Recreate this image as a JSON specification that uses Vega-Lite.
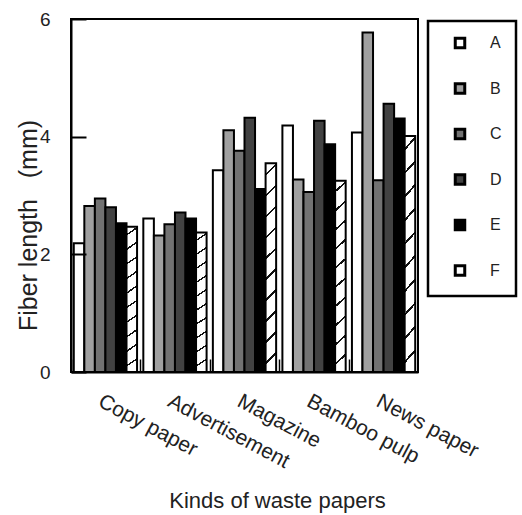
{
  "$schema": "https://vega.github.io/schema/vega-lite/v6.json",
  "autosize": {"type": "none"},
  "width": 347,
  "height": 353,
  "padding": {"left": 71, "top": 19, "right": 104, "bottom": 143},
  "background": "white",
  "data": {"values": [
    {"paper": "Copy paper", "series": "A", "len": 2.19},
    {"paper": "Copy paper", "series": "B", "len": 2.82},
    {"paper": "Copy paper", "series": "C", "len": 2.95},
    {"paper": "Copy paper", "series": "D", "len": 2.80},
    {"paper": "Copy paper", "series": "E", "len": 2.53},
    {"paper": "Copy paper", "series": "F", "len": 2.47},
    {"paper": "Advertisement", "series": "A", "len": 2.61},
    {"paper": "Advertisement", "series": "B", "len": 2.32},
    {"paper": "Advertisement", "series": "C", "len": 2.51},
    {"paper": "Advertisement", "series": "D", "len": 2.71},
    {"paper": "Advertisement", "series": "E", "len": 2.61},
    {"paper": "Advertisement", "series": "F", "len": 2.37},
    {"paper": "Magazine", "series": "A", "len": 3.43},
    {"paper": "Magazine", "series": "B", "len": 4.11},
    {"paper": "Magazine", "series": "C", "len": 3.76},
    {"paper": "Magazine", "series": "D", "len": 4.32},
    {"paper": "Magazine", "series": "E", "len": 3.11},
    {"paper": "Magazine", "series": "F", "len": 3.55},
    {"paper": "Bamboo pulp", "series": "A", "len": 4.19},
    {"paper": "Bamboo pulp", "series": "B", "len": 3.27},
    {"paper": "Bamboo pulp", "series": "C", "len": 3.06},
    {"paper": "Bamboo pulp", "series": "D", "len": 4.27},
    {"paper": "Bamboo pulp", "series": "E", "len": 3.87},
    {"paper": "Bamboo pulp", "series": "F", "len": 3.25},
    {"paper": "News paper", "series": "A", "len": 4.07},
    {"paper": "News paper", "series": "B", "len": 5.77},
    {"paper": "News paper", "series": "C", "len": 3.26},
    {"paper": "News paper", "series": "D", "len": 4.56},
    {"paper": "News paper", "series": "E", "len": 4.31},
    {"paper": "News paper", "series": "F", "len": 4.01}
  ]},
  "mark": {"type": "bar", "stroke": "black", "strokeWidth": 2, "opacity": 1},
  "encoding": {
    "x": {
      "field": "paper", "type": "nominal",
      "sort": ["Copy paper", "Advertisement", "Magazine", "Bamboo pulp", "News paper"],
      "scale": {"paddingInner": 0.09, "paddingOuter": 0.04},
      "axis": {
        "title": "Kinds of waste papers",
        "labelAngle": 28, "labelAlign": "left", "labelBaseline": "top",
        "bandPosition": 0, "tickOffset": -3, "labelOffset": 2,
        "tickSize": -13, "tickWidth": 1.5, "tickColor": "black",
        "domainColor": "black", "domainWidth": 2,
        "labelPadding": 31, "labelFontSize": 21, "labelColor": "#222", "labelLimit": 300,
        "titleFontSize": 22, "titleFontWeight": "normal", "titleColor": "#222",
        "titleX": 206, "titleY": 135, "titleBaseline": "alphabetic",
        "zindex": 1
      }
    },
    "xOffset": {"field": "series", "sort": ["A", "B", "C", "D", "E", "F"]},
    "y": {
      "field": "len", "type": "quantitative",
      "scale": {"domain": [0, 6], "nice": false},
      "axis": {
        "title": "Fiber length\u00a0\u00a0\u00a0(mm)",
        "values": [0, 2, 4, 6], "grid": false,
        "tickSize": -15, "tickWidth": 2, "tickColor": "black",
        "domainColor": "black", "domainWidth": 2,
        "labelPadding": 36, "labelFontSize": 19, "labelColor": "#222",
        "titleFontSize": 25, "titleFontWeight": "normal", "titleColor": "#222",
        "titleX": -35, "titleY": 206, "titleAlign": "center", "titleBaseline": "alphabetic",
        "zindex": 1
      }
    },
    "fill": {
      "condition": {
        "test": "datum.series === 'F'",
        "value": {
          "gradient": "linear", "x1": 0, "y1": 0, "x2": 0.05, "y2": 1,
          "stops": [
            {"offset": 0, "color": "#ffffff"},
            {"offset": 0.05, "color": "#ffffff"}, {"offset": 0.05, "color": "#111111"}, {"offset": 0.062, "color": "#111111"}, {"offset": 0.062, "color": "#ffffff"},
            {"offset": 0.15, "color": "#ffffff"}, {"offset": 0.15, "color": "#111111"}, {"offset": 0.162, "color": "#111111"}, {"offset": 0.162, "color": "#ffffff"},
            {"offset": 0.25, "color": "#ffffff"}, {"offset": 0.25, "color": "#111111"}, {"offset": 0.262, "color": "#111111"}, {"offset": 0.262, "color": "#ffffff"},
            {"offset": 0.35, "color": "#ffffff"}, {"offset": 0.35, "color": "#111111"}, {"offset": 0.362, "color": "#111111"}, {"offset": 0.362, "color": "#ffffff"},
            {"offset": 0.45, "color": "#ffffff"}, {"offset": 0.45, "color": "#111111"}, {"offset": 0.462, "color": "#111111"}, {"offset": 0.462, "color": "#ffffff"},
            {"offset": 0.55, "color": "#ffffff"}, {"offset": 0.55, "color": "#111111"}, {"offset": 0.562, "color": "#111111"}, {"offset": 0.562, "color": "#ffffff"},
            {"offset": 0.65, "color": "#ffffff"}, {"offset": 0.65, "color": "#111111"}, {"offset": 0.662, "color": "#111111"}, {"offset": 0.662, "color": "#ffffff"},
            {"offset": 0.75, "color": "#ffffff"}, {"offset": 0.75, "color": "#111111"}, {"offset": 0.762, "color": "#111111"}, {"offset": 0.762, "color": "#ffffff"},
            {"offset": 0.85, "color": "#ffffff"}, {"offset": 0.85, "color": "#111111"}, {"offset": 0.862, "color": "#111111"}, {"offset": 0.862, "color": "#ffffff"},
            {"offset": 0.95, "color": "#ffffff"}, {"offset": 0.95, "color": "#111111"}, {"offset": 0.962, "color": "#111111"}, {"offset": 0.962, "color": "#ffffff"},
            {"offset": 1, "color": "#ffffff"}
          ]
        }
      },
      "field": "series", "type": "nominal",
      "scale": {"domain": ["A", "B", "C", "D", "E", "F"], "range": ["#ffffff", "#a0a0a0", "#727272", "#424242", "#000000", "#ffffff"]},
      "legend": {
        "title": null, "orient": "none", "legendX": 357, "legendY": 2,
        "symbolType": "square", "symbolSize": 90, "symbolStrokeColor": "black", "symbolStrokeWidth": 3,
        "symbolOffset": 10, "labelOffset": 22, "labelFontSize": 16, "labelColor": "#222",
        "padding": 14, "rowPadding": 23.5,
        "strokeColor": "black"
      }
    }
  },
  "config": {
    "font": "Liberation Sans",
    "view": {"stroke": "black", "strokeWidth": 2},
    "legend": {"strokeWidth": 2.5}
  }
}
